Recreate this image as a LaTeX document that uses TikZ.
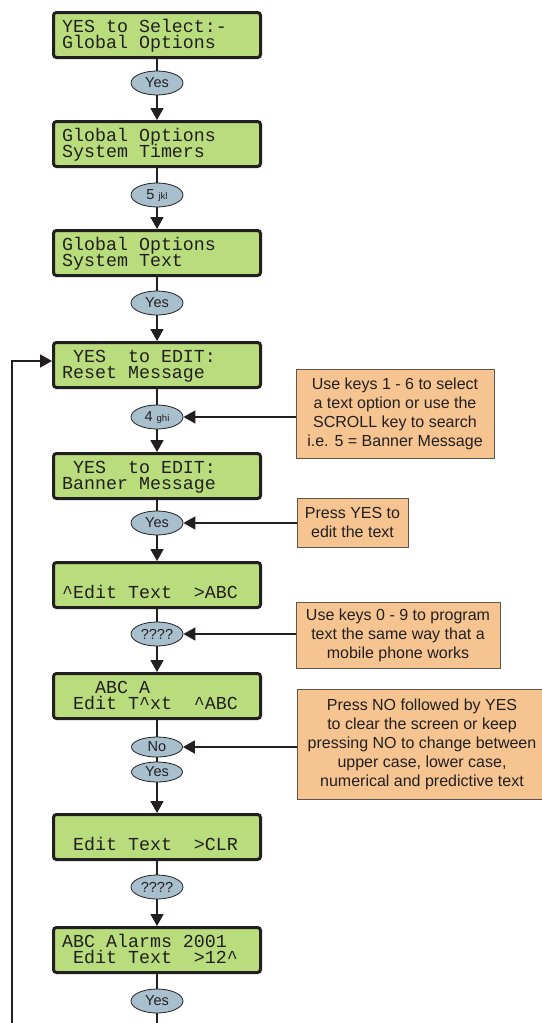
\documentclass[tikz,border=0pt]{standalone}
\usepackage{fontspec}
\setmainfont{Liberation Sans}
\setmonofont{Liberation Mono}
\usetikzlibrary{arrows.meta,shapes.geometric}
\definecolor{lcdgreen}{RGB}{185,220,125}
\definecolor{keyblue}{RGB}{168,192,206}
\definecolor{noteorange}{RGB}{245,196,145}
\definecolor{notebrd}{RGB}{95,85,75}
\definecolor{ink}{RGB}{35,31,32}
\newcommand\lcdbox[4]{%
  \node[lcd] (#1) at (157,#2) {};
  \node[lcdt] (#1t) at ([xshift=10pt,yshift=-37pt]#1.north west)
    {\vbox{\baselineskip=16pt\relax\lineskiplimit=-20pt\relax\hbox{#3}\hbox{#4}}};}
\newcommand\ca{\textasciicircum}
\newcommand\sm[1]{{\fontsize{9.5}{9.5}\selectfont #1}}
\begin{document}
\begin{tikzpicture}[x=1pt,y=-1pt,
  lcd/.style={draw=ink, line width=3pt, rounded corners=3pt, fill=lcdgreen,
    minimum width=207pt, minimum height=45pt, inner sep=0pt},
  lcdt/.style={anchor=base west, inner sep=0pt, text=ink,
    font=\ttfamily\fontsize{18.3}{16}\selectfont},
  key/.style={ellipse, draw=ink, line width=0.8pt, fill=keyblue,
    minimum width=52pt, minimum height=24pt, inner sep=0pt, text=ink,
    font=\fontsize{14.5}{15}\selectfont},
  keysm/.style={key, minimum height=20pt, minimum width=51pt},
  note/.style={draw=notebrd, line width=1pt, fill=noteorange, align=center,
    inner sep=0pt, text=ink, font=\fontsize{16}{19}\selectfont},
  flow/.style={line width=1.8pt, draw=ink},
  arr/.style={flow, -{Triangle[width=13pt,length=12pt]}},
  harr/.style={line width=1.6pt, draw=ink, -{Triangle[width=13pt,length=12pt]}}]
\useasboundingbox (0,0) rectangle (541,1023);

% LCD screens
\lcdbox{b1}{35}{YES to Select:-}{Global Options}
\lcdbox{b2}{144}{Global Options}{System Timers}
\lcdbox{b3}{253}{Global Options}{System Text}
\lcdbox{b4}{365}{~YES~~to EDIT:}{Reset Message}
\lcdbox{b5}{476}{~YES~~to EDIT:}{Banner Message}
\lcdbox{b6}{585}{}{\ca Edit Text~~>ABC}
\lcdbox{b7}{696}{~~~ABC A}{~Edit T\ca xt~~\ca ABC}
\lcdbox{b8}{837}{}{~Edit Text~~>CLR}
\lcdbox{b9}{950}{ABC Alarms 2001}{~Edit Text~~>12\ca}

% keys
\node[key] (k1) at (157,83) {Yes};
\node[key] (k2) at (157,195) {5 \sm{jkl}};
\node[key] (k3) at (157,303) {Yes};
\node[key] (k4) at (157,417) {4 \sm{ghi}};
\node[key] (k5) at (157,523) {Yes};
\node[key] (k6) at (157,634) {????};
\node[keysm] (k7) at (157,747) {No};
\node[keysm] (k8) at (157,772) {Yes};
\node[key] (k9) at (157,887) {????};
\node[key] (k10) at (157,1001) {Yes};

% notes
\node[note, minimum width=198pt, minimum height=89pt] (o1) at (395,413.5)
  {Use keys 1 - 6 to select\\a text option or use the\\SCROLL key to search\\i.e. 5 = Banner Message};
\node[note, minimum width=111pt, minimum height=49pt] (o2) at (352.5,522.5)
  {Press YES to\\edit the text};
\node[note, minimum width=204pt, minimum height=66pt] (o3) at (398,635)
  {Use keys 0 - 9 to program\\text the same way that a\\mobile phone works};
\node[note, minimum width=250pt, minimum height=110pt] (o4) at (422,744)
  {Press NO followed by YES\\to clear the screen or keep\\pressing NO to change between\\upper case, lower case,\\numerical and predictive text};

% flow
\draw[flow] (b1) -- (k1);  \draw[arr] (k1) -- (b2);
\draw[flow] (b2) -- (k2);  \draw[arr] (k2) -- (b3);
\draw[flow] (b3) -- (k3);  \draw[arr] (k3) -- (b4);
\draw[flow] (b4) -- (k4);  \draw[arr] (k4) -- (b5);
\draw[flow] (b5) -- (k5);  \draw[arr] (k5) -- (b6);
\draw[flow] (b6) -- (k6);  \draw[arr] (k6) -- (b7);
\draw[flow] (b7) -- (k7);  \draw[flow] (k7) -- (k8);
\draw[arr] (k8) -- (b8);
\draw[flow] (b8) -- (k9);  \draw[arr] (k9) -- (b9);
\draw[flow] (b9) -- (k10);
\coordinate (kout) at (157,1023);
\draw[flow] (k10) -- (kout);

% notes to keys
\draw[harr] (o1.west |- k4.east) -- (k4.east);
\draw[harr] (o2.west |- k5.east) -- (k5.east);
\draw[harr] (o3.west |- k6.east) -- (k6.east);
\draw[harr] (o4.west |- k7.east) -- (k7.east);

% loop back
\coordinate (fbot) at (12,1023);
\draw[arr] (fbot) |- ([yshift=4pt]b4.west);
\end{tikzpicture}
\end{document}
